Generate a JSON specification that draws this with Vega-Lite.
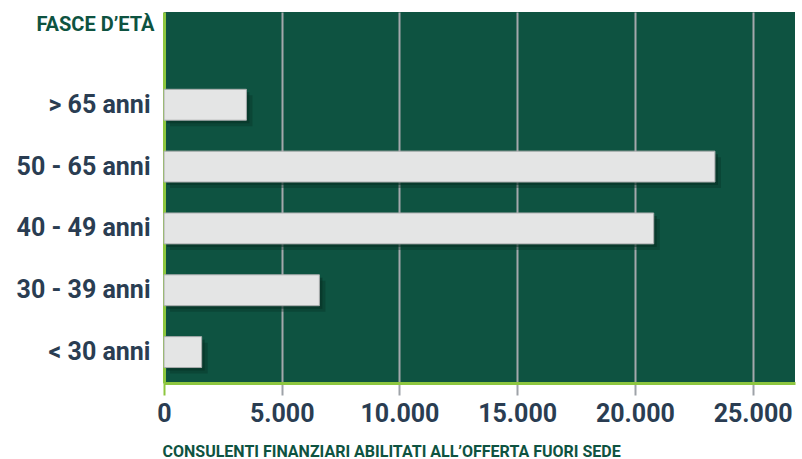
{
  "$schema": "https://vega.github.io/schema/vega-lite/v6.json",
  "width": 631,
  "height": 371,
  "autosize": "none",
  "padding": {"left": 164, "top": 12, "right": 7, "bottom": 76},
  "background": "#ffffff",
  "config": {
    "view": {"fill": "#0e5341", "stroke": null},
    "font": "Roboto"
  },
  "data": {
    "values": [
      {"fascia": "> 65 anni", "consulenti": 3500},
      {"fascia": "50 - 65 anni", "consulenti": 23400},
      {"fascia": "40 - 49 anni", "consulenti": 20800},
      {"fascia": "30 - 39 anni", "consulenti": 6600},
      {"fascia": "< 30 anni", "consulenti": 1600}
    ]
  },
  "encoding": {
    "y": {
      "field": "fascia",
      "type": "nominal",
      "scale": {
        "domain": [" ", "> 65 anni", "50 - 65 anni", "40 - 49 anni", "30 - 39 anni", "< 30 anni"],
        "paddingInner": 0.5,
        "paddingOuter": 0.25
      },
      "axis": {
        "title": "FASCE D’ETÀ",
        "titleAngle": 0,
        "titleAlign": "right",
        "titleBaseline": "top",
        "titleX": -10,
        "titleY": 2,
        "titleFontSize": 20,
        "titleFontWeight": "bold",
        "titleColor": "#0e5341",
        "labelFontSize": 25,
        "labelFontWeight": "bold",
        "labelColor": "#2a3d52",
        "labelPadding": 14,
        "labelLimit": 160,
        "ticks": false,
        "domainColor": "#8dc63f",
        "domainWidth": 3,
        "grid": false
      }
    },
    "x": {
      "field": "consulenti",
      "type": "quantitative",
      "scale": {"domain": [0, 26800], "nice": false},
      "axis": {
        "title": "CONSULENTI FINANZIARI ABILITATI ALL’OFFERTA FUORI SEDE",
        "titleAnchor": "start",
        "titleAlign": "left",
        "titleBaseline": "alphabetic",
        "titleX": -2,
        "titleY": 73,
        "titleFontSize": 16,
        "titleFontWeight": "bold",
        "titleColor": "#0e5341",
        "values": [0, 5000, 10000, 15000, 20000, 25000],
        "labelExpr": "replace(format(datum.value, ','), ',', '.')",
        "labelFontSize": 25,
        "labelFontWeight": "bold",
        "labelColor": "#2a3d52",
        "labelPadding": 6,
        "labelFlush": false,
        "tickSize": 12,
        "tickWidth": 2,
        "tickColor": {"condition": {"test": "datum.value == 0", "value": "#8dc63f"}, "value": "#9ea3a8"},
        "domainColor": "#8dc63f",
        "domainWidth": 3,
        "grid": true,
        "gridColor": "#a3a8ac",
        "gridWidth": 2,
        "gridOpacity": 1
      }
    }
  },
  "layer": [
    {
      "mark": {"type": "bar", "color": "#052e22", "opacity": 0.35, "xOffset": 6, "yOffset": 6}
    },
    {
      "mark": {"type": "bar", "color": "#052e22", "opacity": 0.5, "xOffset": 3, "yOffset": 3}
    },
    {
      "mark": {"type": "bar", "color": "#e4e5e5", "stroke": "#a9acad", "strokeWidth": 1}
    }
  ]
}
